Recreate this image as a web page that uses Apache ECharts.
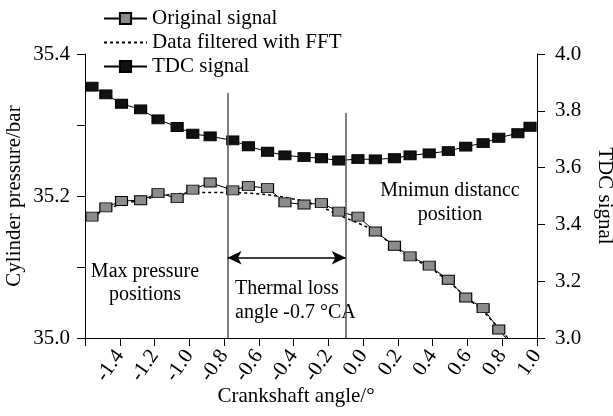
<!DOCTYPE html>
<html><head><meta charset="utf-8">
<script src="https://cdn.jsdelivr.net/npm/echarts@6/dist/echarts.min.js"></script>
<style>html,body{margin:0;padding:0;background:#fff}#c{width:613px;height:416px}</style>
</head><body><div id="c"></div>
<script>
// crank angles (deg)
const angles = [-1.56,-1.48,-1.39,-1.28,-1.18,-1.07,-0.98,-0.88,-0.75,-0.66,-0.55,-0.45,-0.34,-0.24,-0.14,-0.03,0.07,0.18,0.27,0.38,0.49,0.59,0.69,0.78,0.89,0.96];
// Original signal (bar)
const original = [35.171,35.184,35.193,35.194,35.204,35.197,35.209,35.219,35.208,35.214,35.211,35.191,35.188,35.190,35.178,35.171,35.150,35.130,35.115,35.102,35.082,35.057,35.042,35.012,34.980,34.960];
// Data filtered with FFT (bar)
const filtered = [35.171,35.181,35.189,35.194,35.200,35.203,35.205,35.205,35.205,35.204,35.202,35.198,35.193,35.185,35.173,35.162,35.151,35.128,35.114,35.100,35.080,35.058,35.038,35.014,34.985,34.965];
// TDC signal
const tdc = [3.885,3.858,3.825,3.805,3.770,3.743,3.719,3.710,3.696,3.675,3.656,3.643,3.637,3.633,3.625,3.630,3.629,3.633,3.643,3.650,3.658,3.674,3.686,3.705,3.721,3.744];
// annotation lines: [x, top y]
const lossStart = [-0.78, 35.345];
const lossEnd = [-0.10, 35.317];
const arrowY = 35.113;

const font = 'Liberation Serif';
const pair = (xs, ys) => xs.map((x, i) => [x, ys[i]]);
const AF = 21; // axis / legend font size
const NF = '20px "Liberation Serif"';

const chart = echarts.init(document.getElementById('c'), null, {renderer: 'canvas'});
chart.setOption({
  animation: false,
  textStyle: {fontFamily: font, color: '#000'},
  grid: {left: 85, right: 76, top: 54, bottom: 78, containLabel: false, outerBoundsMode: 'none'},
  legend: {
    orient: 'vertical', left: 98, top: 3, itemGap: 3, itemWidth: 43, itemHeight: 14,
    textStyle: {fontFamily: font, fontSize: AF, color: '#000'},
    data: ['Original signal', {name: 'Data filtered with FFT', itemStyle: {opacity: 0}}, 'TDC signal']
  },
  xAxis: {
    type: 'value', min: -1.6, max: 1.0, interval: 0.2,
    name: 'Crankshaft angle/°', nameLocation: 'middle', nameGap: 48, nameMoveOverlap: false,
    nameTextStyle: {fontFamily: font, fontSize: AF, color: '#000', padding: [0, 30, 0, 0]},
    axisLine: {onZero: false, lineStyle: {color: '#000', width: 1}},
    axisTick: {inside: false, length: 8, lineStyle: {color: '#000'}},
    axisLabel: {rotate: 55, fontSize: AF, color: '#000', fontFamily: font, margin: 14,
      formatter: v => Math.abs(v + 1.6) < 1e-9 ? '' : v.toFixed(1)},
    splitLine: {show: false}
  },
  yAxis: [{
    type: 'value', min: 35.0, max: 35.4, interval: 0.1, position: 'left',
    name: 'Cylinder pressure/bar', nameLocation: 'middle', nameGap: 60, nameRotate: 90, nameMoveOverlap: false,
    nameTextStyle: {fontFamily: font, fontSize: AF, color: '#000'},
    axisLine: {show: true, onZero: false, lineStyle: {color: '#000'}},
    axisTick: {show: true, length: 8, lineStyle: {color: '#000'}},
    axisLabel: {fontSize: AF, color: '#000', fontFamily: font, margin: 15,
      formatter: v => (Math.round(v * 10) % 2 === 0) ? v.toFixed(1) : ''},
    splitLine: {show: false}
  }, {
    type: 'value', min: 3.0, max: 4.0, interval: 0.2, position: 'right',
    name: 'TDC signal', nameLocation: 'middle', nameGap: 57, nameRotate: -90, nameMoveOverlap: false,
    nameTextStyle: {fontFamily: font, fontSize: AF, color: '#000'},
    axisLine: {show: true, onZero: false, lineStyle: {color: '#000'}},
    axisTick: {show: true, length: 8, lineStyle: {color: '#000'}},
    axisLabel: {fontSize: AF, color: '#000', fontFamily: font, margin: 18,
      formatter: v => v.toFixed(1)},
    splitLine: {show: false}
  }],
  series: [{
    name: 'Original signal', type: 'line', yAxisIndex: 0,
    data: pair(angles, original),
    symbol: 'rect', symbolSize: [12, 9], showAllSymbol: true,
    itemStyle: {color: '#8c8c8c', borderColor: '#000', borderWidth: 1},
    lineStyle: {color: '#000', width: 1},
    z: 3,
    markLine: {
      silent: true, symbol: 'none', animation: false,
      lineStyle: {color: '#555', width: 1.5, type: 'solid'},
      label: {show: false},
      data: [
        [{coord: [lossStart[0], 35.0]}, {coord: lossStart}],
        [{coord: [lossEnd[0], 35.0]}, {coord: lossEnd}]
      ]
    }
  }, {
    name: 'Data filtered with FFT', type: 'line', yAxisIndex: 0,
    data: pair(angles, filtered), symbol: 'none',
    lineStyle: {color: '#000', width: 1.5, type: [3, 3]},
    itemStyle: {color: '#000'},
    z: 2,
    markLine: {
      silent: true, symbol: ['arrow', 'arrow'], symbolSize: [10, 14], animation: false,
      lineStyle: {color: '#000', width: 1.5, type: 'solid'},
      label: {show: false},
      data: [[{coord: [lossStart[0], arrowY]}, {coord: [lossEnd[0], arrowY]}]]
    }
  }, {
    name: 'TDC signal', type: 'line', yAxisIndex: 1,
    data: pair(angles, tdc),
    symbol: 'rect', symbolSize: [12, 9], showAllSymbol: true,
    itemStyle: {color: '#111', borderColor: '#000', borderWidth: 1},
    lineStyle: {color: '#000', width: 1},
    z: 3
  }],
  graphic: [
    {type: 'text', x: 145, y: 272, style: {text: 'Max pressure', font: NF, fill: '#000', textAlign: 'center', textVerticalAlign: 'middle'}},
    {type: 'text', x: 145, y: 295, style: {text: 'positions', font: NF, fill: '#000', textAlign: 'center', textVerticalAlign: 'middle'}},
    {type: 'text', x: 235, y: 289, style: {text: 'Thermal loss', font: NF, fill: '#000', textAlign: 'left', textVerticalAlign: 'middle'}},
    {type: 'text', x: 235, y: 313, style: {text: 'angle -0.7 °CA', font: NF, fill: '#000', textAlign: 'left', textVerticalAlign: 'middle'}},
    {type: 'text', x: 450, y: 191, style: {text: 'Mnimun distancc', font: NF, fill: '#000', textAlign: 'center', textVerticalAlign: 'middle'}},
    {type: 'text', x: 450, y: 215, style: {text: 'position', font: NF, fill: '#000', textAlign: 'center', textVerticalAlign: 'middle'}}
  ]
});
</script>
</body></html>
